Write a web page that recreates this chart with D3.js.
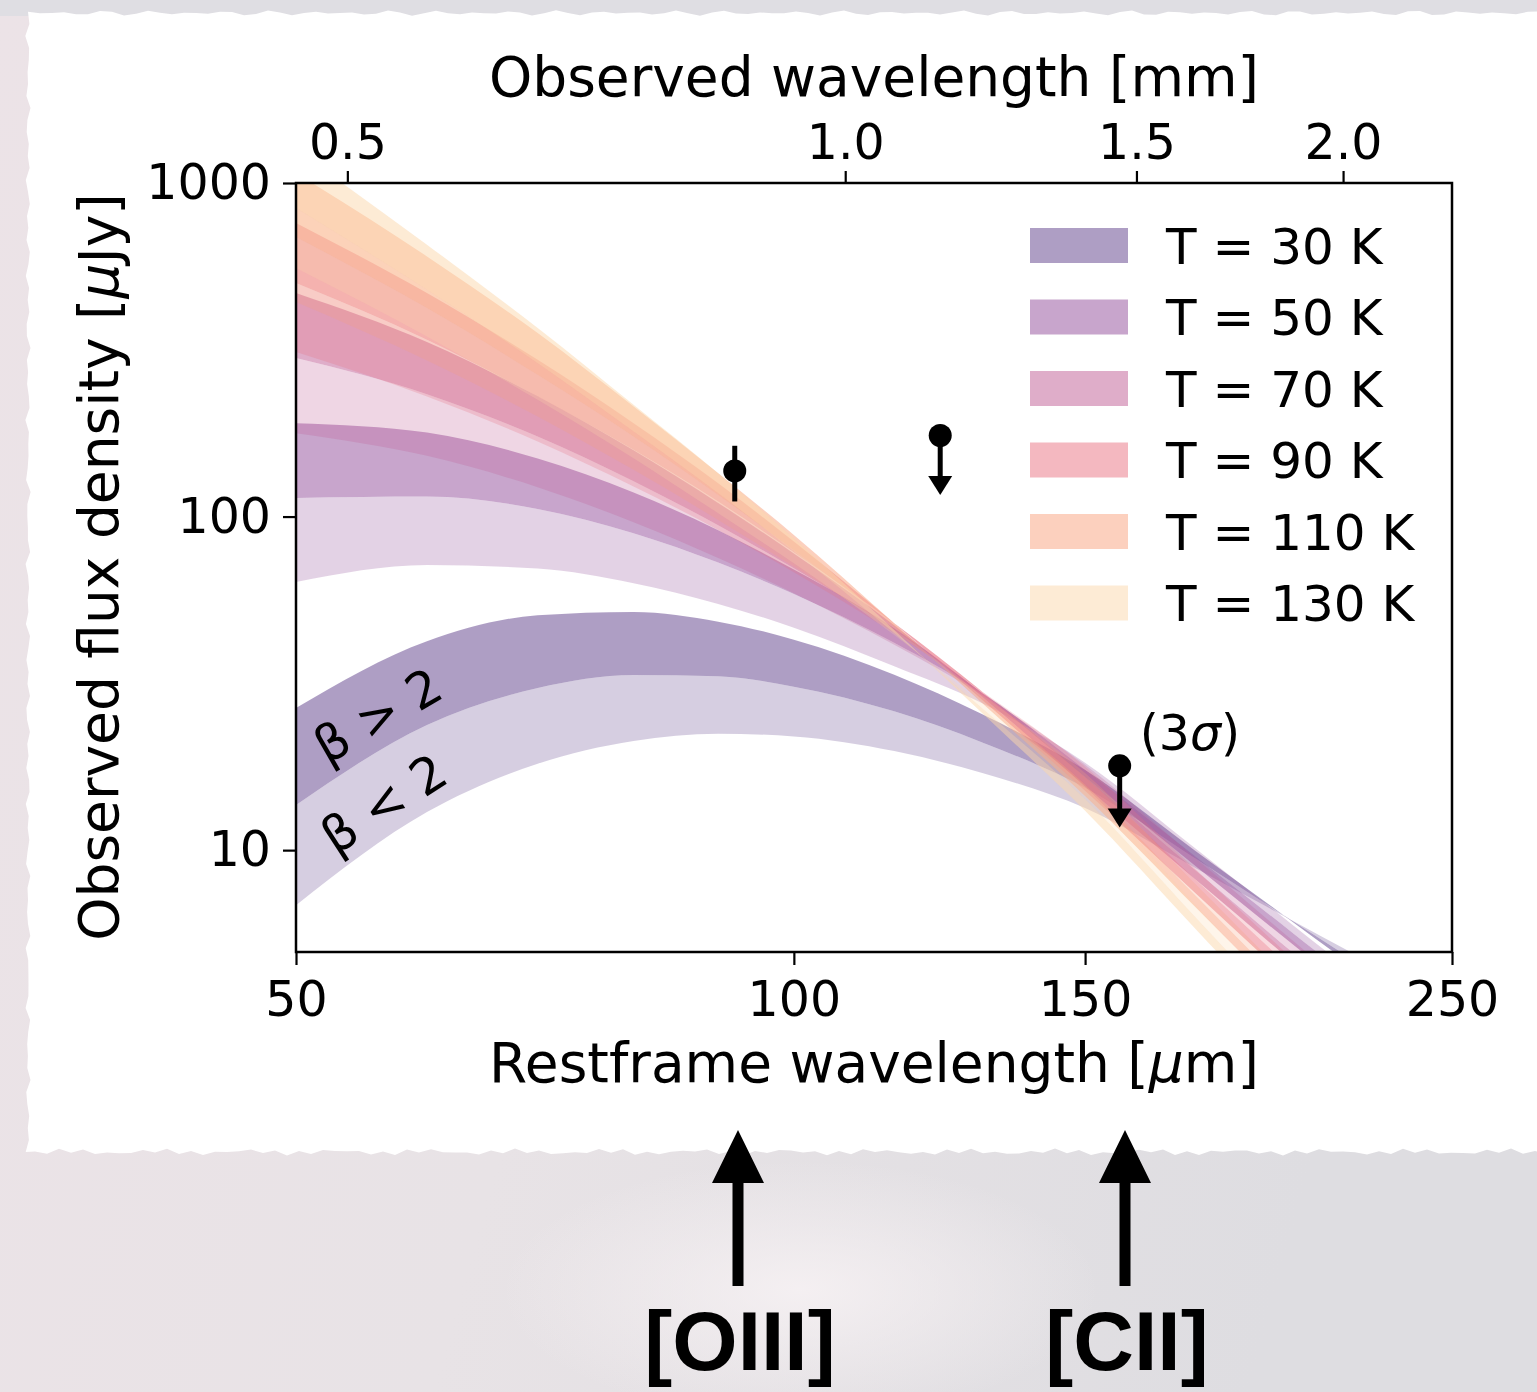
<!DOCTYPE html>
<html><head><meta charset="utf-8">
<script src="https://cdn.jsdelivr.net/npm/d3@7"></script>
<style>
html,body{margin:0;padding:0;background:#e4dfe2;overflow:hidden}
svg{display:block}
text{font-family:"DejaVu Sans",sans-serif;fill:#000}
</style></head><body>
<svg id="chart" width="1537" height="1392"></svg>
<script>
// Rest-frame wavelengths (μm) at which the SED envelopes are sampled
const restWavelength = [50, 60, 70, 80, 90, 100, 115, 130, 150, 175, 200, 230, 260];

// log10 flux density (μJy) of each envelope: upper (β > 2 edge), middle (β = 2), lower (β < 2 edge)
const t30Upper = [1.426, 1.626, 1.704, 1.714, 1.685, 1.631, 1.526, 1.407, 1.240, 0.997, 0.787, 0.566, 0.373];
const t30Mid   = [1.135, 1.375, 1.486, 1.525, 1.521, 1.490, 1.416, 1.323, 1.187, 0.974, 0.789, 0.595, 0.425];
const t30Lower = [0.835, 1.114, 1.259, 1.327, 1.349, 1.341, 1.297, 1.231, 1.126, 0.946, 0.790, 0.627, 0.483];
const t50Upper = [2.280, 2.252, 2.174, 2.072, 1.959, 1.841, 1.665, 1.470, 1.220, 0.952, 0.720, 0.478, 0.264];
const t50Mid   = [2.056, 2.060, 2.023, 1.950, 1.862, 1.768, 1.622, 1.470, 1.241, 0.980, 0.754, 0.517, 0.309];
const t50Lower = [1.804, 1.855, 1.844, 1.800, 1.738, 1.667, 1.551, 1.440, 1.262, 1.004, 0.778, 0.541, 0.333];
const t70Upper = [2.670, 2.523, 2.361, 2.199, 2.041, 1.889, 1.674, 1.460, 1.192, 0.911, 0.667, 0.413, 0.189];
const t70Mid   = [2.475, 2.367, 2.240, 2.106, 1.974, 1.845, 1.660, 1.470, 1.220, 0.939, 0.695, 0.441, 0.217];
const t70Lower = [2.250, 2.182, 2.088, 1.983, 1.876, 1.770, 1.616, 1.465, 1.256, 0.975, 0.731, 0.477, 0.253];
const t90Upper = [2.880, 2.670, 2.470, 2.280, 2.100, 1.925, 1.680, 1.450, 1.178, 0.870, 0.604, 0.324, 0.079];
const t90Mid   = [2.700, 2.530, 2.360, 2.200, 2.045, 1.893, 1.680, 1.475, 1.219, 0.911, 0.645, 0.365, 0.120];
const t90Lower = [2.493, 2.360, 2.225, 2.090, 1.960, 1.833, 1.650, 1.475, 1.250, 0.942, 0.676, 0.396, 0.151];
const t110Upper = [3.030, 2.780, 2.550, 2.330, 2.130, 1.945, 1.680, 1.440, 1.162, 0.828, 0.538, 0.234, -0.033];
const t110Mid   = [2.838, 2.625, 2.425, 2.240, 2.065, 1.900, 1.670, 1.455, 1.197, 0.863, 0.573, 0.269, 0.003];
const t110Lower = [2.643, 2.468, 2.300, 2.140, 1.990, 1.850, 1.655, 1.465, 1.231, 0.897, 0.607, 0.303, 0.037];
const t130Upper = [3.099, 2.815, 2.565, 2.335, 2.130, 1.935, 1.660, 1.410, 1.118, 0.763, 0.456, 0.134, -0.148];
const t130Mid   = [2.925, 2.680, 2.460, 2.255, 2.070, 1.895, 1.650, 1.425, 1.153, 0.798, 0.491, 0.169, -0.113];
const t130Lower = [2.745, 2.540, 2.350, 2.175, 2.010, 1.860, 1.645, 1.440, 1.190, 0.835, 0.528, 0.206, -0.076];

const temperatures = [30, 50, 70, 90, 110, 130];
const legendLabels = ["T = 30 K", "T = 50 K", "T = 70 K", "T = 90 K", "T = 110 K", "T = 130 K"];
const bandColors = ["#5d3d89", "#914b99", "#bf5b93", "#e97181", "#f9a17d", "#fbd7ab"];

// ALMA continuum measurements
const detectionRest = [92.1];
const detectionFlux = [137];
const detectionErr  = [26];
const limitRest = [122.6, 157.4];
const limitFlux = [175, 17.9];
const limitArrowTip = [116, 11.7];

const bottomTicks = [50, 100, 150, 250];
const leftTicks = [10, 100, 1000];
const topTicks = [0.5, 1.0, 1.5, 2.0];
const onePlusZ = 9.31;

const lineLabels = ["[OIII]", "[CII]"];
const lineRest = [88, 158];
const lineArrowX = [738, 1125];

const envelopes = [
  [t30Upper, t30Mid, t30Lower],
  [t50Upper, t50Mid, t50Lower],
  [t70Upper, t70Mid, t70Lower],
  [t90Upper, t90Mid, t90Lower],
  [t110Upper, t110Mid, t110Lower],
  [t130Upper, t130Mid, t130Lower]
];

const svg = d3.select("#chart");
const W = 1537, H = 1392;
const plot = { left: 296, right: 1452, top: 183, bottom: 952 };

const defs = svg.append("defs");
const bg = defs.append("linearGradient").attr("id", "bgGrad").attr("x1", 0).attr("y1", 0).attr("x2", 1).attr("y2", 0.25);
bg.append("stop").attr("offset", 0).attr("stop-color", "#ece3e7");
bg.append("stop").attr("offset", 0.5).attr("stop-color", "#e8e3e6");
bg.append("stop").attr("offset", 1).attr("stop-color", "#dedde1");
const glow = defs.append("radialGradient").attr("id", "glow").attr("cx", 0.5).attr("cy", 0.5).attr("r", 0.5);
glow.append("stop").attr("offset", 0).attr("stop-color", "#f6f1f3").attr("stop-opacity", 0.9);
glow.append("stop").attr("offset", 1).attr("stop-color", "#f6f1f3").attr("stop-opacity", 0);
defs.append("clipPath").attr("id", "plotClip").append("rect")
  .attr("x", plot.left).attr("y", plot.top)
  .attr("width", plot.right - plot.left).attr("height", plot.bottom - plot.top);

// backdrop
svg.append("rect").attr("width", W).attr("height", H).attr("fill", "url(#bgGrad)");
svg.append("rect").attr("width", W).attr("height", 16).attr("fill", "#dfdee3");
svg.append("ellipse").attr("cx", 800).attr("cy", 1290).attr("rx", 300).attr("ry", 130).attr("fill", "url(#glow)");

// white card with slightly torn edges
function tornEdge() {
  const pts = [];
  const top = 13, left = 28, bottom = 1152;
  for (let px = left; px <= W + 10; px += 12) pts.push([px, top + 1.6 * Math.sin(px * 0.37) + 1.1 * Math.sin(px * 0.11)]);
  for (let py = top; py <= bottom; py += 12) pts.push([W + 10, py]);
  for (let px = W + 10; px >= left; px -= 12) pts.push([px, bottom + 2.2 * Math.sin(px * 0.29) + 1.4 * Math.sin(px * 0.07)]);
  for (let py = bottom; py >= top; py -= 12) pts.push([left + 1.5 * Math.sin(py * 0.31) + 1.2 * Math.sin(py * 0.13), py]);
  return "M" + pts.map(p => p[0].toFixed(1) + "," + p[1].toFixed(1)).join("L") + "Z";
}
svg.append("path").attr("d", tornEdge()).attr("fill", "#ffffff");

const x = d3.scaleLog().domain([50, 250]).range([plot.left, plot.right]);
const y = d3.scaleLog().domain([4.95, 1000]).range([plot.bottom, plot.top]);
const xTop = d3.scaleLog().domain([50 * onePlusZ / 1000, 250 * onePlusZ / 1000]).range([plot.left, plot.right]);

// SED envelopes
const bands = svg.append("g").attr("clip-path", "url(#plotClip)");
const area = d3.area()
  .x(d => x(d.lam))
  .y0(d => y(Math.pow(10, d.a)))
  .y1(d => y(Math.pow(10, d.b)))
  .curve(d3.curveMonotoneX);
envelopes.forEach((env, i) => {
  const [up, mid, low] = env;
  const darkPts = restWavelength.map((lam, k) => ({ lam, a: mid[k], b: up[k] }));
  const lightPts = restWavelength.map((lam, k) => ({ lam, a: low[k], b: mid[k] }));
  bands.append("path").attr("d", area(darkPts)).attr("fill", bandColors[i]).attr("fill-opacity", 0.5);
  bands.append("path").attr("d", area(lightPts)).attr("fill", bandColors[i]).attr("fill-opacity", 0.25);
});

// β annotations on the coldest envelope
svg.append("text").attr("transform", "translate(378,716) rotate(-30)")
  .attr("text-anchor", "middle").attr("dominant-baseline", "central")
  .style("font-size", "50px").text("β > 2");
svg.append("text").attr("transform", "translate(384,804) rotate(-33)")
  .attr("text-anchor", "middle").attr("dominant-baseline", "central")
  .style("font-size", "50px").text("β < 2");

// axes frame
svg.append("rect").attr("x", plot.left).attr("y", plot.top)
  .attr("width", plot.right - plot.left).attr("height", plot.bottom - plot.top)
  .attr("fill", "none").attr("stroke", "#000").attr("stroke-width", 2.5);

const fmt = d => String(d);
const bottomAxis = d3.axisBottom(x).tickValues(bottomTicks).tickFormat(fmt).tickSize(13).tickPadding(16);
const gB = svg.append("g").attr("transform", `translate(0,${plot.bottom})`).call(bottomAxis);
const leftAxis = d3.axisLeft(y).tickValues(leftTicks).tickFormat(fmt).tickSize(13).tickPadding(12);
const gL = svg.append("g").attr("transform", `translate(${plot.left},0)`).call(leftAxis);
const topAxis = d3.axisTop(xTop).tickValues(topTicks).tickFormat(d3.format(".1f")).tickSize(12).tickPadding(12);
const gT = svg.append("g").attr("transform", `translate(0,${plot.top})`).call(topAxis);
[gB, gL, gT].forEach(g => {
  g.select(".domain").remove();
  g.selectAll(".tick line").attr("stroke", "#000").attr("stroke-width", 2.2);
  g.selectAll(".tick text").style("font-family", "DejaVu Sans").style("font-size", "49px").attr("fill", "#000");
});

svg.append("text").attr("x", 874).attr("y", 1082).attr("text-anchor", "middle")
  .style("font-size", "55px")
  .html('Restframe wavelength [<tspan font-style="italic">μ</tspan>m]');
svg.append("text").attr("x", 874).attr("y", 96).attr("text-anchor", "middle")
  .style("font-size", "55px").text("Observed wavelength [mm]");
svg.append("text").attr("transform", "translate(118,567) rotate(-90)").attr("text-anchor", "middle")
  .style("font-size", "55px")
  .html('Observed flux density [<tspan font-style="italic">μ</tspan>Jy]');

// legend
const legend = svg.append("g");
temperatures.forEach((t, i) => {
  const cy = 245.5 + i * 71.5;
  legend.append("rect").attr("x", 1030).attr("y", cy - 17.5).attr("width", 98).attr("height", 35)
    .attr("fill", bandColors[i]).attr("fill-opacity", 0.5);
  legend.append("text").attr("x", 1166).attr("y", cy + 18).style("font-size", "50px").text(legendLabels[i]);
});

// measurements
const pts = svg.append("g");
detectionRest.forEach((lam, i) => {
  pts.append("line").attr("x1", x(lam)).attr("x2", x(lam))
    .attr("y1", y(detectionFlux[i] + detectionErr[i])).attr("y2", y(detectionFlux[i] - detectionErr[i]))
    .attr("stroke", "#000").attr("stroke-width", 5);
  pts.append("circle").attr("cx", x(lam)).attr("cy", y(detectionFlux[i])).attr("r", 11.5).attr("fill", "#000");
});
limitRest.forEach((lam, i) => {
  const cx = x(lam), cy = y(limitFlux[i]), ty = y(limitArrowTip[i]);
  pts.append("line").attr("x1", cx).attr("x2", cx).attr("y1", cy).attr("y2", ty - 10)
    .attr("stroke", "#000").attr("stroke-width", 5);
  pts.append("path").attr("d", `M${cx - 12},${ty - 19}L${cx + 12},${ty - 19}L${cx},${ty}Z`).attr("fill", "#000");
  pts.append("circle").attr("cx", cx).attr("cy", cy).attr("r", 11.5).attr("fill", "#000");
});
svg.append("text").attr("x", x(limitRest[1]) + 20).attr("y", y(limitFlux[1]) - 16)
  .style("font-size", "49px")
  .html('(3<tspan font-style="italic">σ</tspan>)');

// emission-line markers below the card
lineLabels.forEach((label, i) => {
  const cx = lineArrowX[i];
  svg.append("path")
    .attr("d", `M${cx},1130L${cx + 26},1183L${cx + 5.5},1183L${cx + 5.5},1286L${cx - 5.5},1286L${cx - 5.5},1183L${cx - 26},1183Z`)
    .attr("fill", "#000");
  svg.append("text").attr("x", cx + 2).attr("y", 1370).attr("text-anchor", "middle")
    .style("font-family", "Liberation Sans, Arial, sans-serif").style("font-weight", "bold")
    .style("font-size", "84px").text(label);
});
</script></body></html>
